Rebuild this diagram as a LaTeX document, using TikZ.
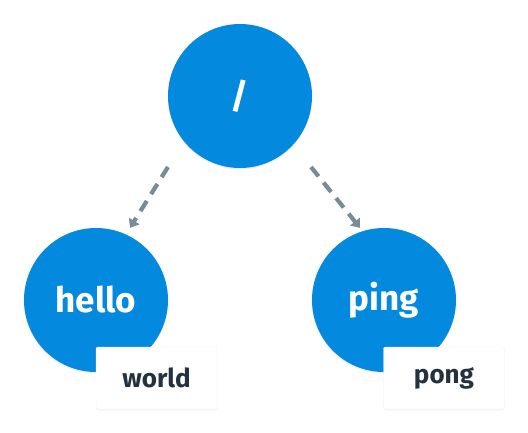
\documentclass[tikz,border=0pt]{standalone}
\usepackage{fontspec}
\setmainfont{Fira Sans}
\usetikzlibrary{%
	positioning,
	arrows.meta,
	shadows
}
\definecolor{nodeblue}{RGB}{3,137,221}
\definecolor{edgegray}{RGB}{122,138,153}
\definecolor{tagtext}{RGB}{36,50,64}

\begin{document}
\begin{tikzpicture}[
		SNode/.style={circle,fill=nodeblue,minimum size=144pt,inner sep=0pt,text=white,font=\fontsize{35}{35}\selectfont\bfseries,drop shadow={shadow xshift=0pt,shadow yshift=-1.5pt,opacity=.12}},
		STag/.style={rectangle,rounded corners=2pt,fill=white,draw=black!6,minimum width=121pt,minimum height=62pt,text=tagtext,font=\fontsize{26}{26}\selectfont\bfseries,drop shadow={shadow xshift=0pt,shadow yshift=-1.5pt,opacity=.08}},
		link/.style={draw=edgegray,line width=4.2pt,dash pattern=on 12pt off 8pt,-{Triangle[length=8pt,width=12pt]}}
	]
	
	\useasboundingbox (0,0) rectangle (528pt,-432pt);
	
		%root
		\node(root) [SNode] at (240pt,-96pt) {/};
		
		%hello
		\node(hello) [SNode, below left=204pt and 144pt of root.center, anchor=center] {hello};
		\node(hello-tag) [STag, below right=78pt and 60.5pt of hello.center, anchor=center] {world};
		
		%ping
		\node(ping) [SNode, below right=204pt and 144pt of root.center, anchor=center] {ping};
		\node(ping-tag) [STag, below right=78pt and 60pt of ping.center, anchor=center] {pong};
		
		%edges
		\coordinate(root-l) at ([xshift=-72pt,yshift=-71pt]root.center);
		\coordinate(root-r) at ([xshift=71pt,yshift=-71pt]root.center);
		\coordinate(hello-in) at ([xshift=34pt]hello.north);
		\coordinate(ping-in) at ([xshift=-24pt]ping.north);
		\draw [link] (root-l) -- (hello-in);
		\draw [link] (root-r) -- (ping-in);
		
	\end{tikzpicture}
\end{document}
